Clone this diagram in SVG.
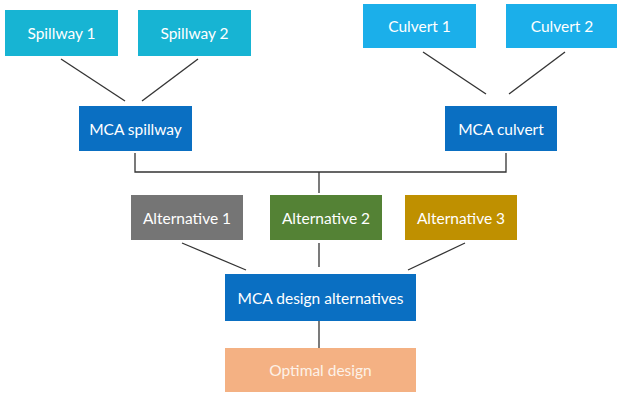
<svg xmlns="http://www.w3.org/2000/svg" width="617" height="394" viewBox="0 0 617 394">
<style>
.n rect{stroke:none}
.n text{font-family:Lato,"Open Sans","Liberation Sans",sans-serif;font-size:15.5px;fill:#ffffff;text-anchor:middle;dominant-baseline:central}
#connectors line,#connectors polyline{stroke:#333333;stroke-width:1.3;fill:none}
</style>
<rect width="617" height="394" fill="#ffffff"/>
<g id="connectors">
<line x1="61" y1="59" x2="125" y2="101"/>
<line x1="198" y1="59" x2="142" y2="101"/>
<line x1="423" y1="52" x2="486" y2="94"/>
<line x1="565" y1="52" x2="509" y2="94"/>
<polyline points="135,153 135,172 506,172 506,153"/>
<line x1="319" y1="172" x2="319" y2="193"/>
<line x1="182" y1="243" x2="246" y2="270"/>
<line x1="319" y1="243" x2="319" y2="267"/>
<line x1="465" y1="243" x2="408" y2="270"/>
<line x1="319" y1="321" x2="319" y2="348"/>
</g>
<g id="spillway1" class="n"><rect x="5" y="10" width="113" height="46" fill="#17B4D3"/><text x="61.5" y="33">Spillway 1</text></g>
<g id="spillway2" class="n"><rect x="138" y="10" width="113" height="46" fill="#17B4D3"/><text x="194.5" y="33">Spillway 2</text></g>
<g id="culvert1" class="n"><rect x="363" y="4" width="113" height="44" fill="#1BAFEA"/><text x="419.5" y="26">Culvert 1</text></g>
<g id="culvert2" class="n"><rect x="506" y="4" width="112" height="44" fill="#1BAFEA"/><text x="562" y="26">Culvert 2</text></g>
<g id="mca-spillway" class="n"><rect x="79" y="106" width="113" height="45" fill="#0A6FC2"/><text x="135.5" y="128.5">MCA spillway</text></g>
<g id="mca-culvert" class="n"><rect x="445" y="106" width="112" height="45" fill="#0A6FC2"/><text x="501" y="128.5">MCA culvert</text></g>
<g id="alt1" class="n"><rect x="131" y="195" width="112" height="45" fill="#757575"/><text x="187" y="217.5">Alternative 1</text></g>
<g id="alt2" class="n"><rect x="270" y="195" width="112" height="45" fill="#548235"/><text x="326" y="217.5">Alternative 2</text></g>
<g id="alt3" class="n"><rect x="405" y="195" width="112" height="45" fill="#BF9000"/><text x="461" y="217.5">Alternative 3</text></g>
<g id="mca-design" class="n"><rect x="225" y="274" width="191" height="47" fill="#0A6FC2"/><text x="320.5" y="297.5">MCA design alternatives</text></g>
<g id="optimal" class="n"><rect x="225" y="348" width="191" height="44" fill="#F4B183"/><text x="320.5" y="370" style="fill:#fdf1e8">Optimal design</text></g>
</svg>
